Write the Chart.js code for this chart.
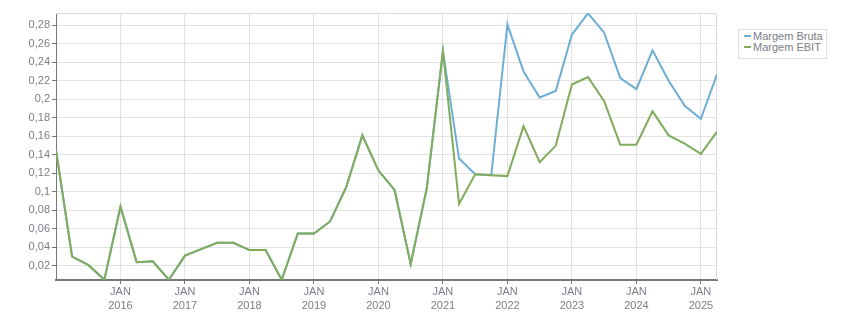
<!DOCTYPE html>
<html>
<head>
<meta charset="utf-8">
<script src="https://cdn.jsdelivr.net/npm/chart.js@4"></script>
<style>
    body { margin: 0; background: #fff; }
    #wrap { position: relative; width: 851px; height: 313px; }
    #legend {
        position: absolute; left: 738px; top: 29px; width: 87px; height: 27px;
        border: 1px solid #dedede; background: #fff;
        font: 11px "Liberation Sans", Arial, sans-serif; color: #7a7e86;
        padding-top: 1px;
    }
    #legend div { height: 11px; line-height: 11px; margin-left: 5px; white-space: nowrap; }
    #legend span.sw { display: inline-block; width: 7px; height: 2px; vertical-align: middle; margin-right: 2px; position: relative; top: -1px; }
</style>
</head>
<body>
<div id="wrap">
    <canvas id="chart" width="851" height="313"></canvas>
    <div id="legend"></div>
</div>
<script>
// quarterly points, Jan 2015 .. Apr 2025
const startYear = 2015;
const seriesNames = ['Margem Bruta', 'Margem EBIT'];
const seriesColors = ['#6eaed4', '#80ac5c'];

const margemBruta = [
    0.145, 0.030, 0.021, 0.005, 0.084, 0.024, 0.025, 0.005,
    0.031, 0.038, 0.045, 0.045, 0.037, 0.037, 0.005, 0.055,
    0.055, 0.068, 0.105, 0.161, 0.123, 0.102, 0.022, 0.104,
    0.252, 0.136, 0.119, 0.118, 0.281, 0.230, 0.202, 0.209,
    0.270, 0.293, 0.272, 0.223, 0.211, 0.253, 0.220, 0.193,
    0.179, 0.227,
];
const margemEbit = [
    0.145, 0.030, 0.021, 0.005, 0.084, 0.024, 0.025, 0.005,
    0.031, 0.038, 0.045, 0.045, 0.037, 0.037, 0.005, 0.055,
    0.055, 0.068, 0.105, 0.161, 0.123, 0.102, 0.022, 0.104,
    0.252, 0.087, 0.119, 0.118, 0.117, 0.171, 0.132, 0.150,
    0.216, 0.224, 0.198, 0.151, 0.151, 0.187, 0.161, 0.152,
    0.141, 0.165,
];
const yearTicks = [2016, 2017, 2018, 2019, 2020, 2021, 2022, 2023, 2024, 2025];
const yTicks = [0.02, 0.04, 0.06, 0.08, 0.1, 0.12, 0.14, 0.16, 0.18, 0.2, 0.22, 0.24, 0.26, 0.28];

const toPoints = arr => arr.map((v, i) => ({ x: startYear + i * 0.25, y: v }));
const allVals = margemBruta.concat(margemEbit);
const yMin = Math.min(...allVals) - 0.0003;
const yMax = Math.max(...allVals) + 0.0003;
const xMax = startYear + (margemBruta.length - 1) * 0.25;

const FONT = { family: '"Liberation Sans", Arial, sans-serif', size: 11 };
const TEXT = '#7a7e86';

// light frame on top and right of the plot
const framePlugin = {
    id: 'frame',
    beforeDatasetsDraw(chart) {
        const { ctx, chartArea: a } = chart;
        ctx.save();
        ctx.strokeStyle = '#dcdcdc';
        ctx.lineWidth = 1;
        ctx.beginPath();
        ctx.moveTo(a.left, a.top + 0.5);
        ctx.lineTo(a.right - 0.5, a.top + 0.5);
        ctx.lineTo(a.right - 0.5, a.bottom);
        ctx.stroke();
        ctx.restore();
    },
};

new Chart(document.getElementById('chart'), {
    type: 'line',
    data: {
        datasets: [
            { label: seriesNames[0], data: toPoints(margemBruta), borderColor: seriesColors[0], order: 1 },
            { label: seriesNames[1], data: toPoints(margemEbit), borderColor: seriesColors[1], order: 0 },
        ],
    },
    options: {
        responsive: false,
        animation: false,
        layout: { padding: { top: 13, right: 134, left: 0, bottom: 0 } },
        elements: {
            line: { borderWidth: 2, tension: 0, fill: false },
            point: { radius: 0 },
        },
        plugins: { legend: { display: false }, tooltip: { enabled: false } },
        scales: {
            x: {
                type: 'linear',
                min: startYear,
                max: xMax,
                afterBuildTicks: s => { s.ticks = yearTicks.map(v => ({ value: v })); },
                afterFit: s => { s.height = 33; },
                ticks: {
                    autoSkip: false,
                    maxRotation: 0,
                    padding: 1,
                    color: TEXT,
                    font: { ...FONT, lineHeight: 1.3 },
                    callback: v => ['JAN', String(v)],
                },
                grid: { color: '#e2e2e2', tickColor: '#777', tickLength: 4 },
                border: { color: '#777', width: 2 },
            },
            y: {
                min: yMin,
                max: yMax,
                afterBuildTicks: s => { s.ticks = yTicks.map(v => ({ value: v })); },
                afterFit: s => { s.width = 56; },
                ticks: {
                    padding: 2,
                    color: TEXT,
                    font: FONT,
                    callback: v => String(+v.toFixed(2)).replace('.', ','),
                },
                grid: { color: '#e2e2e2', tickColor: '#777', tickLength: 4 },
                border: { color: '#777', width: 1 },
            },
        },
    },
    plugins: [framePlugin],
});

// html legend
document.getElementById('legend').innerHTML = seriesNames
    .map((n, i) => `<div><span class="sw" style="background:${seriesColors[i]}"></span>${n}</div>`)
    .join('');
</script>
</body>
</html>
